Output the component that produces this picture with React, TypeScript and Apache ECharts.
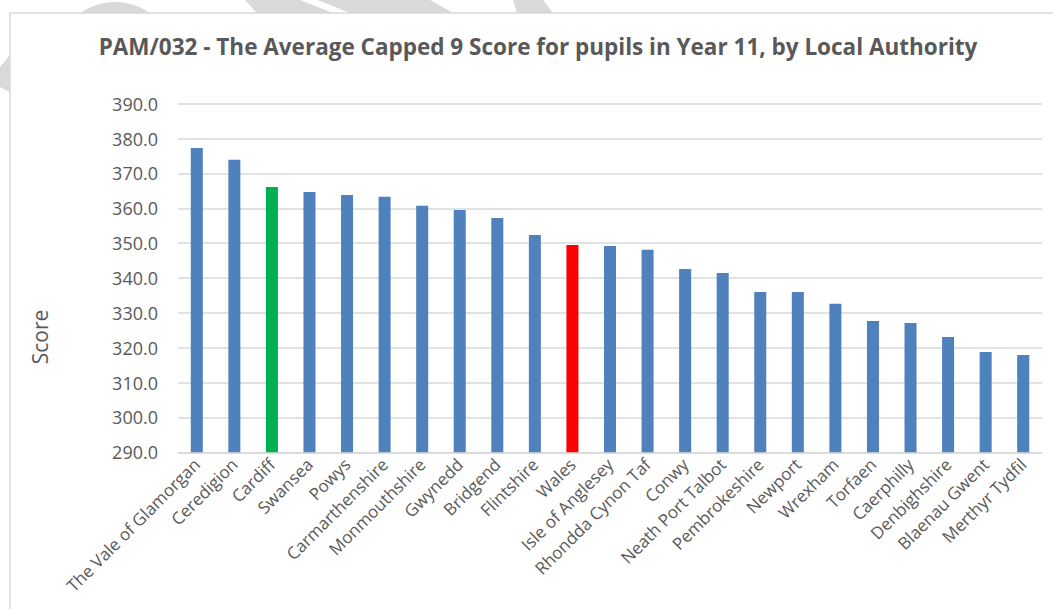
import React, { useEffect, useRef } from "react";
import * as echarts from "echarts";

const titleText = "PAM/032 - The Average Capped 9 Score for pupils in Year 11, by Local Authority";
const yAxisName = "Score";

const categories = [
  "The Vale of Glamorgan", "Ceredigion", "Cardiff", "Swansea", "Powys",
  "Carmarthenshire", "Monmouthshire", "Gwynedd", "Bridgend", "Flintshire",
  "Wales", "Isle of Anglesey", "Rhondda Cynon Taf", "Conwy", "Neath Port Talbot",
  "Pembrokeshire", "Newport", "Wrexham", "Torfaen", "Caerphilly",
  "Denbighshire", "Blaenau Gwent", "Merthyr Tydfil",
];

const scores = [
  377.3, 373.9, 366.1, 364.7, 363.8,
  363.3, 360.7, 359.5, 357.2, 352.3,
  349.5, 349.2, 348.1, 342.6, 341.4,
  336.0, 336.0, 332.6, 327.7, 327.1,
  323.1, 318.8, 317.9,
];

const greenNames = ["Cardiff"];
const redNames = ["Wales"];

const yMin = 290;
const yMax = 390;
const yStep = 10;

const BLUE = "#4F81BD";
const GREEN = "#00B050";
const RED = "#FF0000";
const TEXT = "#595959";
const GRID = "#D9D9D9";
const FONT = "'Open Sans', 'Noto Sans', sans-serif";

export default function App() {
  const ref = useRef<HTMLDivElement>(null);

  useEffect(() => {
    if (!ref.current) return;
    const chart = echarts.init(ref.current, null, { renderer: "svg" });

    const data = categories.map((name, i) => ({
      value: scores[i],
      itemStyle: {
        color: greenNames.includes(name) ? GREEN : redNames.includes(name) ? RED : BLUE,
      },
    }));

    chart.setOption({
      animation: false,
      backgroundColor: "#FFFFFF",
      graphic: [
        { type: "circle", z: -20, shape: { cx: 115, cy: 62, r: 60 }, style: { fill: GRID } },
        { type: "polygon", z: -20, shape: { points: [[245, 0], [300, 0], [333, 13], [257, 13]] }, style: { fill: GRID } },
        { type: "polygon", z: -20, shape: { points: [[318, 0], [430, 0], [453, 13], [350, 13]] }, style: { fill: GRID } },
        { type: "polygon", z: -20, shape: { points: [[513, 0], [543, 0], [553, 13], [517, 13]] }, style: { fill: GRID } },
        { type: "polygon", z: -20, shape: { points: [[0, 67], [10, 55], [10, 92], [0, 87]] }, style: { fill: GRID } },
        {
          type: "rect", z: -10,
          shape: { x: 10, y: 13, width: 1060, height: 620 },
          style: { fill: "#FFFFFF", stroke: GRID, lineWidth: 1.5 },
        },
        {
          type: "text", z: 5,
          x: 40, y: 337, rotation: Math.PI / 2,
          style: {
            text: yAxisName,
            fontFamily: FONT, fontSize: 21, fill: TEXT,
            align: "center", verticalAlign: "middle",
          },
        },
      ],
      title: {
        text: titleText,
        left: 533,
        textAlign: "center",
        top: 30,
        textStyle: { fontFamily: FONT, fontWeight: "bold", fontSize: 22.5, color: TEXT },
      },
      grid: { left: 178, right: 11, top: 103.7, bottom: 156.7, containLabel: false },
      xAxis: {
        type: "category",
        data: categories,
        axisLine: { show: true, lineStyle: { color: GRID, width: 1.5 } },
        axisTick: { show: false },
        axisLabel: {
          interval: 0,
          rotate: 45,
          margin: 9,
          fontFamily: FONT,
          fontSize: 17,
          color: TEXT,
        },
      },
      yAxis: {
        type: "value",
        min: yMin,
        max: yMax,
        interval: yStep,
        axisLine: { show: false },
        axisTick: { show: false },
        axisLabel: {
          margin: 20,
          fontFamily: FONT,
          fontSize: 18,
          color: TEXT,
          formatter: (v: number) => v.toFixed(1),
        },
        splitLine: { show: true, lineStyle: { color: GRID, width: 1.5 } },
      },
      series: [
        {
          type: "bar",
          data,
          barWidth: "32%",
        },
      ],
    });

    return () => chart.dispose();
  }, []);

  return (
    <div
      ref={ref}
      style={{ position: "absolute", left: 0, top: 0, width: 1053, height: 609 }}
    />
  );
}
